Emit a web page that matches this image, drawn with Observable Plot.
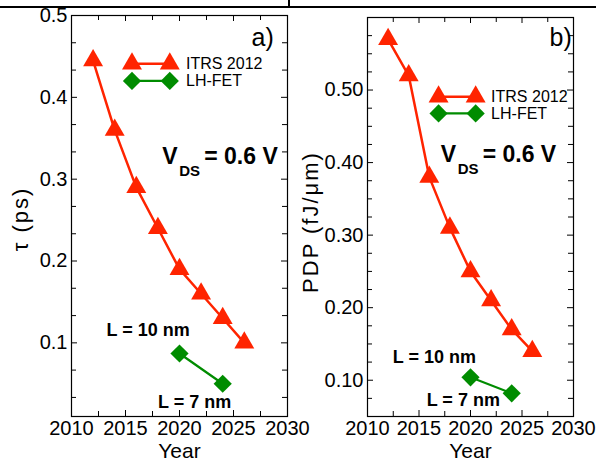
<!DOCTYPE html>
<html><head><meta charset="utf-8">
<script src="https://cdn.jsdelivr.net/npm/d3@7"></script>
<script src="https://cdn.jsdelivr.net/npm/@observablehq/plot@0.6"></script>
<style>
body{margin:0;background:#fff;}
#wrap{position:relative;width:596px;height:463px;overflow:hidden;background:#fff;font-family:"Liberation Sans",Arial,sans-serif;}
#wrap svg{position:absolute;top:0;}
.hline{position:absolute;left:0;top:6px;width:596px;height:2px;background:#000;}
.vline{position:absolute;left:288px;top:0;width:2px;height:7px;background:#000;}
</style></head><body>
<div id="wrap"><div class="hline"></div><div class="vline"></div></div>
<script>
// ---- data ----
const itrsYears = [2012, 2014, 2016, 2018, 2020, 2022, 2024, 2026];
const itrsTau   = [0.445, 0.36, 0.29, 0.24, 0.19, 0.16, 0.13, 0.10];
const itrsPDP   = [0.57, 0.52, 0.38, 0.31, 0.25, 0.21, 0.17, 0.14];
const lhYears   = [2020, 2024];
const lhTau     = [0.087, 0.05];
const lhPDP     = [0.104, 0.082];
const lhLabels  = ["L = 10 nm", "L = 7 nm"];
const seriesNames = ["ITRS 2012", "LH-FET"];
const panelTags = ["a)", "b)"];
const yLabels = ["τ (ps)", "PDP (fJ/μm)"];
// ---- ticks ----
const xMajor = [2010, 2015, 2020, 2025, 2030];
const xMinor = [2012.5, 2017.5, 2022.5, 2027.5];
const tauMajor = [0.1, 0.2, 0.3, 0.4, 0.5];
const tauMinor = [0.0333, 0.0667, 0.1333, 0.1667, 0.2333, 0.2667, 0.3333, 0.3667, 0.4333, 0.4667];
const pdpMajor = [0.1, 0.2, 0.3, 0.4, 0.5, 0.6];
const pdpLabelTicks = [0.1, 0.2, 0.3, 0.4, 0.5];
const pdpMinor = [0.075, 0.125, 0.15, 0.175, 0.225, 0.25, 0.275, 0.325, 0.35, 0.375, 0.425, 0.45, 0.475, 0.525, 0.55, 0.575];

const RED = "#ff2400";
const GREEN = "#008c00";
const FONT = "'Liberation Sans', Arial, Helvetica, sans-serif";

function makePanel(c) {
  const height = 463;
  const H = height - c.marginTop - c.marginBottom;
  const W = c.width - c.marginLeft - c.marginRight;
  const itrsData = itrsYears.map((x, i) => ({x, y: c.itrs[i]}));
  const lhData = lhYears.map((x, i) => ({x, y: c.lh[i]}));
  const lhText = lhLabels.map((t, i) => ({t, x: c.lPos[i][0], y: c.lPos[i][1]}));
  const legRed = [{x: c.leg.x1, y: c.leg.y[0]}, {x: c.leg.x2, y: c.leg.y[0]}];
  const legGreen = [{x: c.leg.x1, y: c.leg.y[1]}, {x: c.leg.x2, y: c.leg.y[1]}];
  const legText = seriesNames.map((t, i) => ({t, x: c.leg.xt, y: c.leg.y[i]}));
  const bold = {fontWeight: "bold", fill: "black"};
  const svg = Plot.plot({
    width: c.width, height,
    marginLeft: c.marginLeft, marginRight: c.marginRight,
    marginTop: c.marginTop, marginBottom: c.marginBottom,
    style: {fontFamily: FONT, fontSize: "20px", color: "black", background: "transparent", overflow: "visible"},
    x: {domain: [2010, 2030]},
    y: {domain: c.yDomain},
    marks: [
      // tick marks inside the frame, on all four sides
      Plot.ruleX(xMajor, {insetTop: H - 6, stroke: "black"}),
      Plot.ruleX(xMajor, {insetBottom: H - 6, stroke: "black"}),
      Plot.ruleX(xMinor, {insetTop: H - 5, stroke: "black"}),
      Plot.ruleX(xMinor, {insetBottom: H - 5, stroke: "black"}),
      Plot.ruleY(c.yMajor, {insetRight: W - 6, stroke: "black"}),
      Plot.ruleY(c.yMajor, {insetLeft: W - 6, stroke: "black"}),
      Plot.ruleY(c.yMinor, {insetRight: W - 5, stroke: "black"}),
      Plot.ruleY(c.yMinor, {insetLeft: W - 5, stroke: "black"}),
      Plot.frame({stroke: "black", strokeWidth: 1.2}),
      Plot.axisX(xMajor, {tickSize: 0, tickPadding: 4, tickFormat: "d", label: null, fontSize: 20}),
      Plot.axisY(c.yLabelTicks, {tickSize: 0, tickPadding: 4, tickFormat: c.yFormat, label: null, fontSize: 20}),
      Plot.text(["Year"], {text: d => d, frameAnchor: "bottom", lineAnchor: "middle", textAnchor: "middle", dy: 35, fontSize: 21}),
      Plot.text([c.yLabel], {text: d => d, frameAnchor: "left", lineAnchor: "middle", textAnchor: "middle", rotate: -90, dx: c.yLabelDx, dy: c.yLabelDy, fontSize: 22}),
      // data
      Plot.line(itrsData, {x: "x", y: "y", stroke: RED, strokeWidth: 2.5}),
      Plot.dot(itrsData, {x: "x", y: "y", symbol: "triangle", r: 7.4, fill: RED, stroke: "none"}),
      Plot.line(lhData, {x: "x", y: "y", stroke: GREEN, strokeWidth: 2.2}),
      Plot.dot(lhData, {x: "x", y: "y", symbol: "diamond2", r: 8.2, fill: GREEN, stroke: "none"}),
      // legend
      Plot.line(legRed, {x: "x", y: "y", stroke: RED, strokeWidth: 2.5}),
      Plot.dot(legRed, {x: "x", y: "y", symbol: "triangle", r: 7.4, fill: RED, stroke: "none"}),
      Plot.line(legGreen, {x: "x", y: "y", stroke: GREEN, strokeWidth: 2.2}),
      Plot.dot(legGreen, {x: "x", y: "y", symbol: "diamond2", r: 8.2, fill: GREEN, stroke: "none"}),
      Plot.text(legText, {x: "x", y: "y", text: "t", textAnchor: "start", lineAnchor: "middle", fontSize: 16}),
      // annotations
      Plot.text([c.tag], {text: "t", x: "x", y: "y", textAnchor: "middle", lineAnchor: "middle", fontSize: 25}),
      Plot.text([c.vds], {text: () => "V", x: "x", y: "y", textAnchor: "start", lineAnchor: "middle", fontSize: 23, ...bold}),
      Plot.text([c.vds], {text: () => "DS", x: "x", y: "y", textAnchor: "start", lineAnchor: "middle", fontSize: 15, dx: 17, dy: 15, ...bold}),
      Plot.text([c.vds], {text: () => "= 0.6 V", x: "x", y: "y", textAnchor: "start", lineAnchor: "middle", fontSize: 23, dx: 42, ...bold}),
      Plot.text(lhText, {text: "t", x: "x", y: "y", textAnchor: "middle", lineAnchor: "middle", fontSize: 18, ...bold})
    ]
  });
  // slightly wider letter spacing for the rotated y-axis title, as in the reference
  svg.querySelectorAll("text").forEach(t => {
    if (t.textContent === c.yLabel) t.setAttribute("letter-spacing", "2");
  });
  return svg;
}

const wrap = document.getElementById("wrap");
const a = makePanel({
  width: 296, marginLeft: 71, marginRight: 9, marginTop: 15, marginBottom: 47,
  yDomain: [0.01, 0.5], yMajor: tauMajor, yMinor: tauMinor, yLabelTicks: tauMajor, yFormat: ".1f",
  yLabel: yLabels[0], yLabelDx: -51, yLabelDy: 3,
  itrs: itrsTau, lh: lhTau,
  leg: {x1: 2015.6, x2: 2019.1, xt: 2020.6, y: [0.441, 0.42]},
  tag: {t: panelTags[0], x: 2027.7, y: 0.4725},
  vds: {x: 2018.4, y: 0.328},
  lPos: [[2017.1, 0.115], [2021.4, 0.028]]
});
a.style.left = "0px";
wrap.appendChild(a);
const b = makePanel({
  width: 300, marginLeft: 71, marginRight: 23, marginTop: 17, marginBottom: 47,
  yDomain: [0.05, 0.6], yMajor: pdpMajor, yMinor: pdpMinor, yLabelTicks: pdpLabelTicks, yFormat: ".2f",
  yLabel: yLabels[1], yLabelDx: -57, yLabelDy: 5,
  itrs: itrsPDP, lh: lhPDP,
  leg: {x1: 2016.9, x2: 2020.5, xt: 2022.0, y: [0.4907, 0.4678]},
  tag: {t: panelTags[1], x: 2028.75, y: 0.5715},
  vds: {x: 2017.1, y: 0.411},
  lPos: [[2016.5, 0.132], [2019.3, 0.0726]]
});
b.style.left = "296px";
wrap.appendChild(b);
</script>
</body></html>
